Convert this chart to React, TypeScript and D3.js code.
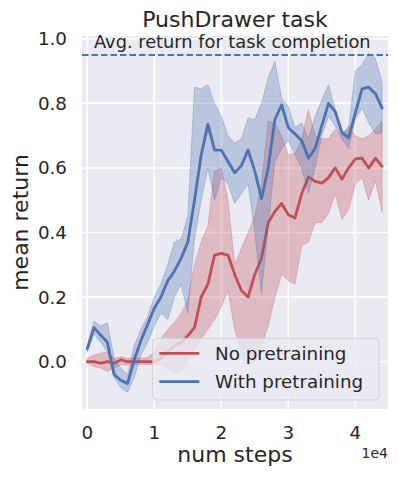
import React from "react";
import * as d3 from "d3";

const steps = [0, 1000, 2000, 3000, 4000, 5000, 6000, 7000, 8000, 9000, 10000, 11000, 12000, 13000, 14000, 15000, 16000, 17000, 18000, 19000, 20000, 21000, 22000, 23000, 24000, 25000, 26000, 27000, 28000, 29000, 30000, 31000, 32000, 33000, 34000, 35000, 36000, 37000, 38000, 39000, 40000, 41000, 42000, 43000, 44000];

const noPreMean = [0.0, 0.0, -0.005, 0.0, -0.005, 0.005, 0.0, 0.0, 0.0, 0.0, 0.0, 0.01, 0.03, 0.05, 0.06, 0.08, 0.105, 0.2, 0.24, 0.33, 0.335, 0.33, 0.27, 0.22, 0.2, 0.27, 0.32, 0.43, 0.465, 0.49, 0.455, 0.445, 0.52, 0.572, 0.558, 0.553, 0.57, 0.6, 0.565, 0.6, 0.628, 0.63, 0.6, 0.63, 0.605];
const noPreLow = [-0.005, -0.015, -0.02, -0.03, -0.02, -0.01, -0.01, -0.01, -0.008, -0.008, -0.01, -0.01, -0.02, -0.035, -0.03, 0.0, 0.04, 0.07, 0.1, 0.13, 0.17, 0.22, 0.1, 0.03, -0.01, 0.0, 0.05, 0.11, 0.2, 0.27, 0.25, 0.24, 0.36, 0.37, 0.43, 0.43, 0.46, 0.52, 0.44, 0.47, 0.55, 0.57, 0.5, 0.56, 0.465];
const noPreHigh = [0.01, 0.02, 0.025, 0.03, 0.01, 0.015, 0.01, 0.01, 0.01, 0.012, 0.03, 0.07, 0.1, 0.12, 0.15, 0.19, 0.3, 0.37, 0.42, 0.59, 0.6, 0.5, 0.3, 0.35, 0.4, 0.45, 0.55, 0.745, 0.74, 0.7, 0.64, 0.645, 0.69, 0.78, 0.7, 0.69, 0.69, 0.72, 0.7, 0.73, 0.7, 0.69, 0.7, 0.72, 0.745];

const withPreMean = [0.04, 0.105, 0.082, 0.06, -0.04, -0.058, -0.068, 0.005, 0.065, 0.115, 0.165, 0.2, 0.25, 0.28, 0.32, 0.37, 0.5, 0.64, 0.735, 0.655, 0.655, 0.62, 0.585, 0.607, 0.655, 0.59, 0.505, 0.6, 0.75, 0.795, 0.725, 0.705, 0.685, 0.63, 0.66, 0.73, 0.8, 0.775, 0.71, 0.693, 0.77, 0.845, 0.85, 0.83, 0.785];
const withPreLow = [0.03, 0.085, 0.06, 0.03, -0.05, -0.08, -0.095, -0.05, 0.02, 0.06, 0.11, 0.15, 0.13, 0.2, 0.24, 0.15, 0.38, 0.5, 0.6, 0.5, 0.57, 0.55, 0.49, 0.52, 0.55, 0.4, 0.21, 0.42, 0.62, 0.66, 0.685, 0.64, 0.6, 0.52, 0.6, 0.7, 0.76, 0.73, 0.69, 0.66, 0.75, 0.786, 0.74, 0.705, 0.708];
const withPreHigh = [0.05, 0.125, 0.11, 0.12, 0.01, -0.02, -0.04, 0.05, 0.1, 0.14, 0.2, 0.24, 0.3, 0.37, 0.38, 0.45, 0.85, 0.845, 0.858, 0.8, 0.76, 0.7, 0.677, 0.69, 0.755, 0.75, 0.8, 0.88, 0.93, 0.815, 0.79, 0.725, 0.74, 0.69, 0.76, 0.81, 0.858, 0.78, 0.71, 0.72, 0.9, 0.92, 0.955, 0.94, 0.865];

const seriesNames = ["No pretraining", "With pretraining"];
const seriesColors = ["#C44E52", "#4C72B0"];
const completionLevel = 0.95;
const completionLabel = "Avg. return for task completion";
const xTicks = [0, 10000, 20000, 30000, 40000];
const xTickLabels = ["0", "1", "2", "3", "4"];
const yTicks = [0, 0.2, 0.4, 0.6, 0.8, 1.0];
const yTickLabels = ["0.0", "0.2", "0.4", "0.6", "0.8", "1.0"];

const FONT = "DejaVu Sans, sans-serif";
const TXT = "#262626";

export default function App() {
  const left = 82, right = 388, top = 36, bottom = 409;
  const x = d3.scaleLinear().domain([-790, 44880]).range([left, right]);
  const y = d3.scaleLinear().domain([-0.147, 1.0087]).range([bottom, top]);

  const series = [
    { mean: noPreMean, low: noPreLow, high: noPreHigh },
    { mean: withPreMean, low: withPreLow, high: withPreHigh },
  ];

  const line = (vals: number[]) =>
    d3.line<number>().x((_, i) => x(steps[i])).y((v) => y(v))(vals) || "";
  const area = (lo: number[], hi: number[]) =>
    d3
      .area<number>()
      .x((_, i) => x(steps[i]))
      .y0((_, i) => y(lo[i]))
      .y1((_, i) => y(hi[i]))(lo) || "";

  const legX = 152.7, legY = 338.3, legW = 226.3, legH = 61.7;
  const rowY = [353.3, 381.7];

  return (
    <svg
      width={399}
      height={479}
      style={{ position: "absolute", left: 0, top: 0, background: "#fff" }}
      fontFamily={FONT}
    >
      <defs>
        <clipPath id="plotclip">
          <rect x={left} y={top} width={right - left} height={bottom - top} />
        </clipPath>
      </defs>
      <rect x={left} y={top} width={right - left} height={bottom - top} fill="#EAEAF2" />
      {xTicks.map((t) => (
        <line key={"gx" + t} x1={x(t)} x2={x(t)} y1={top} y2={bottom} stroke="#fff" strokeWidth={1.5} />
      ))}
      {yTicks.map((t) => (
        <line key={"gy" + t} x1={left} x2={right} y1={y(t)} y2={y(t)} stroke="#fff" strokeWidth={1.5} />
      ))}
      <g clipPath="url(#plotclip)">
        {series.map((s, i) => (
          <g key={"s" + i}>
            <path
              d={area(s.low, s.high)}
              fill={seriesColors[i]}
              fillOpacity={0.3}
              stroke={seriesColors[i]}
              strokeOpacity={0.3}
              strokeWidth={1}
            />
            <path
              d={line(s.mean)}
              fill="none"
              stroke={seriesColors[i]}
              strokeWidth={2.8}
              strokeLinejoin="round"
              strokeLinecap="round"
            />
          </g>
        ))}
        <line
          x1={left}
          x2={right}
          y1={y(completionLevel)}
          y2={y(completionLevel)}
          stroke="#4C72B0"
          strokeWidth={2}
          strokeDasharray="6.5,3"
        />
      </g>
      <text x={94} y={48} fontSize={17.8} fill={TXT}>
        {completionLabel}
      </text>
      {yTicks.map((t, i) => (
        <text key={"yl" + t} x={67} y={y(t)} fontSize={18.3} fill={TXT} textAnchor="end" dominantBaseline="central">
          {yTickLabels[i]}
        </text>
      ))}
      {xTicks.map((t, i) => (
        <text key={"xl" + t} x={x(t)} y={438.5} fontSize={18.3} fill={TXT} textAnchor="middle">
          {xTickLabels[i]}
        </text>
      ))}
      <text x={388} y={458} fontSize={14} fill={TXT} textAnchor="end">
        1e4
      </text>
      <text x={(left + right) / 2} y={461.5} fontSize={22} fill={TXT} textAnchor="middle">
        num steps
      </text>
      <text
        transform={`translate(28,${(top + bottom) / 2}) rotate(-90)`}
        fontSize={22}
        fill={TXT}
        textAnchor="middle"
      >
        mean return
      </text>
      <text x={(left + right) / 2} y={26.5} fontSize={22} fill={TXT} textAnchor="middle">
        PushDrawer task
      </text>
      <rect
        x={legX}
        y={legY}
        width={legW}
        height={legH}
        rx={4}
        fill="#EAEAF2"
        fillOpacity={0.8}
        stroke="#cccccc"
        strokeOpacity={0.8}
        strokeWidth={1}
      />
      {seriesNames.map((n, i) => (
        <g key={"lg" + i}>
          <line x1={159.3} x2={199.3} y1={rowY[i]} y2={rowY[i]} stroke={seriesColors[i]} strokeWidth={2.8} />
          <text x={215} y={rowY[i]} fontSize={18.3} fill={TXT} dominantBaseline="central">
            {n}
          </text>
        </g>
      ))}
    </svg>
  );
}
